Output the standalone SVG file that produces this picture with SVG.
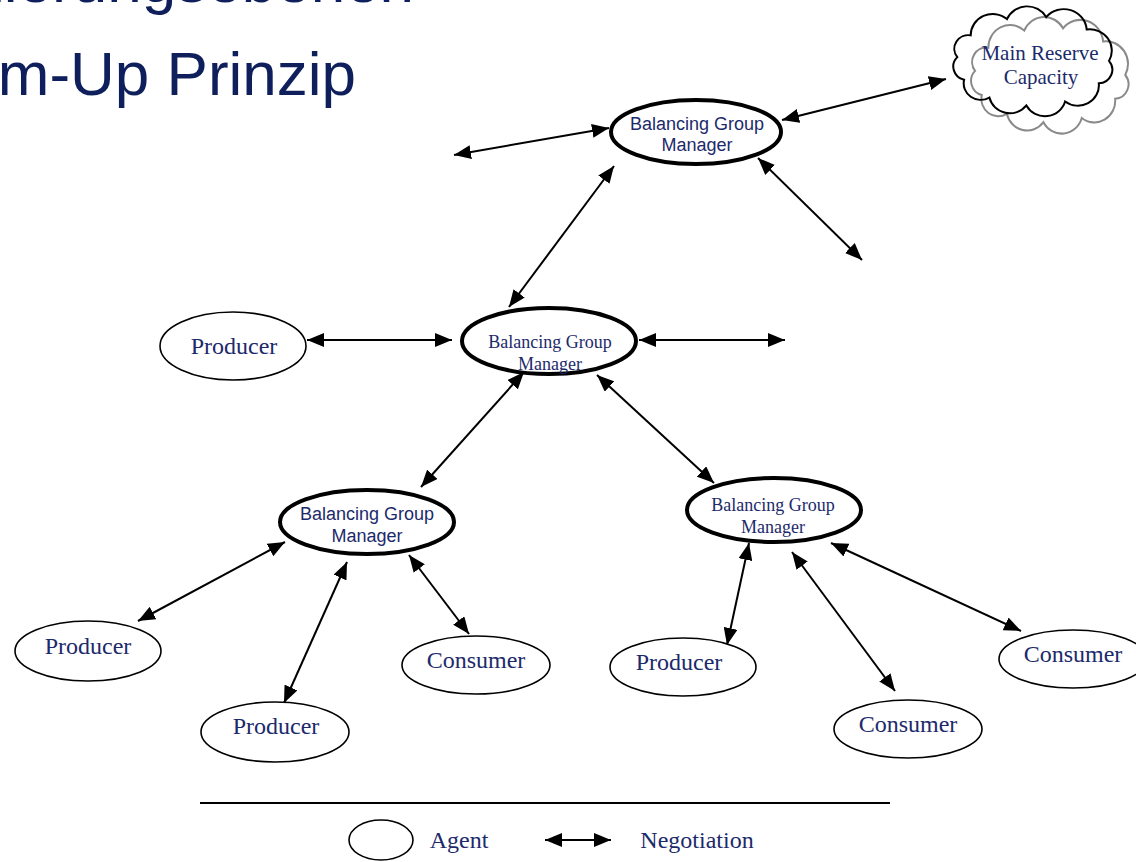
<svg xmlns="http://www.w3.org/2000/svg" xmlns:xlink="http://www.w3.org/1999/xlink" width="1136" height="862" viewBox="0 0 1136 862">
<defs>
<marker id="ah" viewBox="0 0 17 14" refX="17" refY="7" markerWidth="17" markerHeight="14" markerUnits="userSpaceOnUse" orient="auto-start-reverse">
<path d="M0,0 L17,7 L0,14 z" fill="#000"/>
</marker>
<path id="cloud" d="M76,0 A14,14 0 0 1 65.8,23 A21,21 0 0 1 32.1,41.7 A21,21 0 0 1 -6.6,45.8 A21,21 0 0 1 -43.6,37.7 A17,17 0 0 1 -68.9,19.4 A14,14 0 0 1 -75.7,-4 A14,14 0 0 1 -62.3,-26.4 A22,22 0 0 1 -26,-43.2 A22,22 0 0 1 13.2,-45.3 A23,23 0 0 1 53.7,-32.5 A22,22 0 0 1 76,0 z"/>
</defs>
<style>
.title{font-family:"Liberation Sans",Arial,sans-serif;font-size:62px;fill:#0f1f5c}
.sans{font-family:"Liberation Sans",Arial,sans-serif;font-size:18px;fill:#1c2a6b;text-anchor:middle}
.serif{font-family:"Liberation Serif","Times New Roman",serif;fill:#1c2a6b;text-anchor:middle}
.s18{font-size:18px}
.s21{font-size:21px}
.s24{font-size:24px}
.mgr{fill:#fff;stroke:#000;stroke-width:4}
.agent{fill:#fff;stroke:#000;stroke-width:1.6}
.conn line{stroke:#000;stroke-width:2;marker-start:url(#ah);marker-end:url(#ah)}
</style>
<rect width="1136" height="862" fill="#fff"/>
<g id="title">
<text class="title" x="-165" y="2">Bilanzierungsebenen</text>
<text class="title" x="-147" y="95">Bottom-Up Prinzip</text>
</g>
<g id="connectors" class="conn">
<line x1="454" y1="155" x2="609" y2="128"/>
<line x1="782" y1="120" x2="946" y2="79"/>
<line x1="758" y1="158" x2="862" y2="260"/>
<line x1="614" y1="166" x2="509" y2="307"/>
<line x1="307" y1="340" x2="452" y2="340"/>
<line x1="639" y1="340" x2="785" y2="340"/>
<line x1="524" y1="372" x2="421" y2="487"/>
<line x1="597" y1="375" x2="714" y2="483"/>
<line x1="285" y1="542" x2="138" y2="621"/>
<line x1="347" y1="562" x2="284" y2="703"/>
<line x1="409" y1="555" x2="469" y2="634"/>
<line x1="749" y1="543" x2="727" y2="645"/>
<line x1="792" y1="552" x2="895" y2="691"/>
<line x1="831" y1="543" x2="1021" y2="631"/>
</g>
<g id="cloud-main-reserve">
<use xlink:href="#cloud" transform="translate(1050,75) scale(0.99,1.03)" fill="none" stroke="#8a8a8a" stroke-width="2"/>
<use xlink:href="#cloud" transform="translate(1033,61) scale(1.0,0.97)" fill="none" stroke="#000" stroke-width="2"/>
<text class="serif s21" x="1040" y="60">Main Reserve</text>
<text class="serif s21" x="1041" y="84">Capacity</text>
</g>
<g id="bgm-top">
<ellipse class="mgr" cx="696" cy="132" rx="85" ry="32"/>
<text class="sans" x="697" y="130">Balancing Group</text>
<text class="sans" x="697" y="151">Manager</text>
</g>
<g id="bgm-mid">
<ellipse class="mgr" cx="549" cy="341" rx="87" ry="33"/>
<text class="serif s18" x="550" y="348">Balancing Group</text>
<text class="serif s18" x="550" y="370">Manager</text>
</g>
<g id="bgm-left">
<ellipse class="mgr" cx="367" cy="522" rx="87" ry="32"/>
<text class="sans" x="367" y="520">Balancing Group</text>
<text class="sans" x="367" y="542">Manager</text>
</g>
<g id="bgm-right">
<ellipse class="mgr" cx="774" cy="510" rx="87" ry="32"/>
<text class="serif s18" x="773" y="511">Balancing Group</text>
<text class="serif s18" x="773" y="533">Manager</text>
</g>
<g id="producer-mid">
<ellipse class="agent" cx="233" cy="346" rx="73" ry="34"/>
<text class="serif s24" x="234" y="354">Producer</text>
</g>
<g id="producer-left">
<ellipse class="agent" cx="88" cy="651" rx="73" ry="30"/>
<text class="serif s24" x="88" y="654">Producer</text>
</g>
<g id="producer-bottom">
<ellipse class="agent" cx="275" cy="732" rx="74" ry="30"/>
<text class="serif s24" x="276" y="734">Producer</text>
</g>
<g id="consumer-left">
<ellipse class="agent" cx="476" cy="665" rx="74" ry="29"/>
<text class="serif s24" x="476" y="668">Consumer</text>
</g>
<g id="producer-right">
<ellipse class="agent" cx="683" cy="667" rx="73" ry="29"/>
<text class="serif s24" x="679" y="670">Producer</text>
</g>
<g id="consumer-mid">
<ellipse class="agent" cx="908" cy="729" rx="74" ry="29"/>
<text class="serif s24" x="908" y="732">Consumer</text>
</g>
<g id="consumer-right">
<ellipse class="agent" cx="1073" cy="659" rx="74" ry="29"/>
<text class="serif s24" x="1073" y="662">Consumer</text>
</g>
<g id="legend">
<line x1="200" y1="803" x2="890" y2="803" stroke="#000" stroke-width="2"/>
<ellipse class="agent" cx="381" cy="840" rx="32" ry="20"/>
<text class="serif s24" x="459" y="848">Agent</text>
<line x1="545" y1="840" x2="611" y2="840" stroke="#000" stroke-width="2" marker-start="url(#ah)" marker-end="url(#ah)"/>
<text class="serif s24" x="697" y="848">Negotiation</text>
</g>
</svg>
